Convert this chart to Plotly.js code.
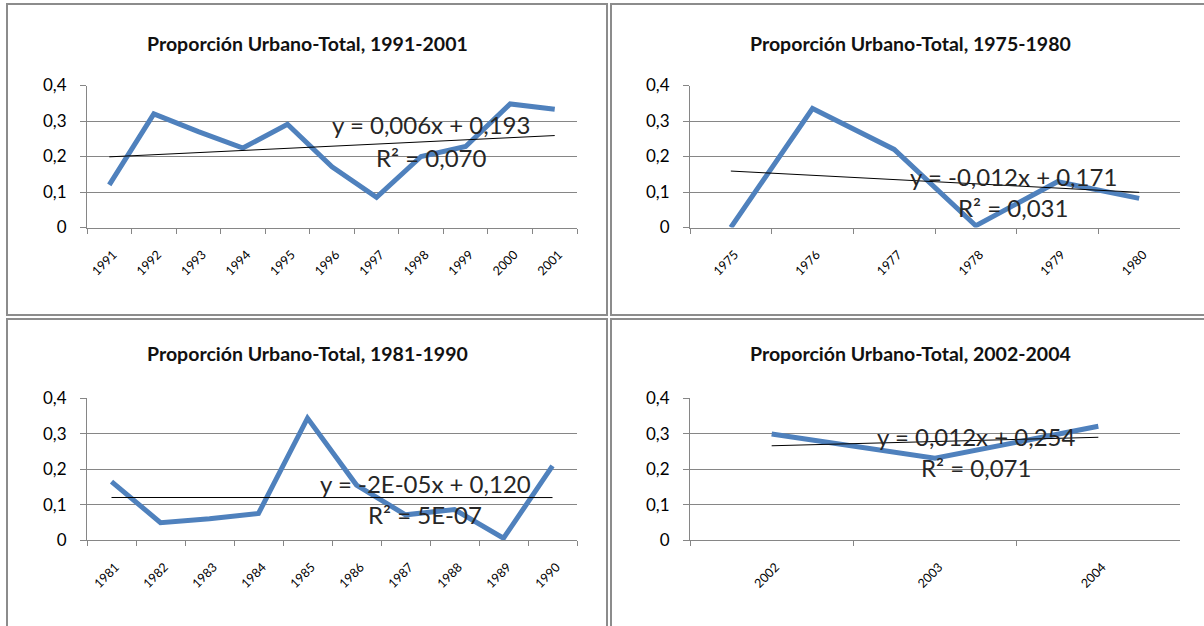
<!DOCTYPE html>
<html>
<head>
<meta charset="utf-8">
<script src="https://cdn.plot.ly/plotly-3.0.1.min.js"></script>
<style>
  html, body { margin: 0; padding: 0; background: #ffffff; }
  #chart { width: 1204px; height: 626px; }
</style>
</head>
<body>
<div id="chart"></div>
<script>
// Urban share of total, by period
const years1991 = ['1991', '1992', '1993', '1994', '1995', '1996', '1997', '1998', '1999', '2000', '2001'];
const share1991 = [0.12, 0.32, 0.27, 0.224, 0.291, 0.171, 0.085, 0.2, 0.228, 0.348, 0.333];

const years1975 = ['1975', '1976', '1977', '1978', '1979', '1980'];
const share1975 = [0.0, 0.335, 0.22, 0.005, 0.129, 0.082];

const years1981 = ['1981', '1982', '1983', '1984', '1985', '1986', '1987', '1988', '1989', '1990'];
const share1981 = [0.165, 0.049, 0.06, 0.075, 0.344, 0.155, 0.071, 0.086, 0.005, 0.209];

const years2002 = ['2002', '2003', '2004'];
const share2002 = [0.299, 0.231, 0.321];

// Linear trend coefficients (x = 1, 2, ... per category)
const trendSlopes = [0.006, -0.012, -0.00002, 0.012];
const trendIntercepts = [0.193, 0.171, 0.120, 0.254];
const trendEquations = ['y = 0,006x + 0,193', 'y = -0,012x + 0,171', 'y = -2E-05x + 0,120', 'y = 0,012x + 0,254'];
const trendR2 = ['R² = 0,070', 'R² = 0,031', 'R² = 5E-07', 'R² = 0,071'];

const chartTitles = [
  'Proporción Urbano-Total, 1991-2001',
  'Proporción Urbano-Total, 1975-1980',
  'Proporción Urbano-Total, 1981-1990',
  'Proporción Urbano-Total, 2002-2004'
];

const yTickVals = [0, 0.1, 0.2, 0.3, 0.4];
const yTickText = ['0', '0,1', '0,2', '0,3', '0,4'];

const W = 1204, H = 626;
const px = v => v / W;
const py = v => 1 - v / H;

// Panel geometry in pixels: frame box, plot box, title/equation anchors
const panels = [
  { years: years1991, share: share1991, frame: [7, 4, 607, 315], plot: [87, 85.5, 577, 227.5], titleX: 307, titleY: 43, eqX: 431, eqY: 124, r2Y: 157 },
  { years: years1975, share: share1975, frame: [611, 4, 1211, 315], plot: [690, 85.5, 1180, 227.5], titleX: 910, titleY: 43, eqX: 1013, eqY: 176, r2Y: 207 },
  { years: years1981, share: share1981, frame: [7, 319, 607, 632], plot: [87, 398.3, 577, 540], titleX: 307, titleY: 353, eqX: 425, eqY: 483, r2Y: 514 },
  { years: years2002, share: share2002, frame: [611, 319, 1211, 632], plot: [690, 398.3, 1180, 540], titleX: 910, titleY: 353, eqX: 976, eqY: 436, r2Y: 467 }
];

const FONT = 'Lato, "Open Sans", sans-serif';
const AXIS_GREY = '#868686';

const traces = [];
const layout = {
  width: W,
  height: H,
  margin: { l: 0, r: 0, t: 0, b: 0 },
  paper_bgcolor: '#ffffff',
  plot_bgcolor: 'rgba(0,0,0,0)',
  showlegend: false,
  font: { family: FONT, color: '#000000' },
  shapes: [],
  annotations: []
};

panels.forEach((p, i) => {
  const n = i + 1;
  const xa = n === 1 ? 'x' : 'x' + n;
  const ya = n === 1 ? 'y' : 'y' + n;
  const xKey = n === 1 ? 'xaxis' : 'xaxis' + n;
  const yKey = n === 1 ? 'yaxis' : 'yaxis' + n;

  // trend line evaluated at each category position
  const trend = p.years.map((_, k) => trendSlopes[i] * (k + 1) + trendIntercepts[i]);

  traces.push({
    x: p.years, y: p.share, xaxis: xa, yaxis: ya,
    type: 'scatter', mode: 'lines',
    line: { color: '#4F81BD', width: 5 },
    hoverinfo: 'skip'
  });
  traces.push({
    x: p.years, y: trend, xaxis: xa, yaxis: ya,
    type: 'scatter', mode: 'lines',
    line: { color: '#000000', width: 1 },
    hoverinfo: 'skip'
  });

  layout[xKey] = {
    domain: [px(p.plot[0]), px(p.plot[2])],
    anchor: ya,
    type: 'category',
    range: [-0.5, p.years.length - 0.5],
    tickson: 'boundaries',
    ticks: 'outside',
    ticklen: 5,
    tickcolor: AXIS_GREY,
    showline: true,
    linecolor: AXIS_GREY,
    linewidth: 1,
    showgrid: false,
    zeroline: false,
    tickangle: -45,
    tickfont: { family: FONT, size: 12.5, color: '#000000' },
    ticklabelstandoff: 14,
    ticklabelshift: 4,
    fixedrange: true
  };
  layout[yKey] = {
    domain: [py(p.plot[3]), py(p.plot[1])],
    anchor: xa,
    range: [0, 0.4],
    tickvals: yTickVals,
    ticktext: yTickText,
    ticks: 'outside',
    ticklen: 6,
    tickcolor: AXIS_GREY,
    showline: true,
    linecolor: AXIS_GREY,
    linewidth: 1,
    showgrid: true,
    gridcolor: AXIS_GREY,
    gridwidth: 1,
    zeroline: false,
    tickfont: { family: FONT, size: 17, color: '#000000' },
    ticklabelstandoff: 10,
    fixedrange: true
  };

  // chart frame
  layout.shapes.push({
    type: 'rect', xref: 'paper', yref: 'paper',
    x0: px(p.frame[0]), x1: px(p.frame[2]),
    y0: py(p.frame[3]), y1: py(p.frame[1]),
    line: { color: '#8c8c8c', width: 2 },
    fillcolor: 'rgba(0,0,0,0)',
    layer: 'below'
  });

  // chart title
  layout.annotations.push({
    xref: 'paper', yref: 'paper',
    x: px(p.titleX), y: py(p.titleY),
    xanchor: 'center', yanchor: 'middle',
    showarrow: false,
    text: '<b>' + chartTitles[i] + '</b>',
    font: { family: FONT, size: 19.5, color: '#111111' }
  });

  // trend equation and R²
  layout.annotations.push({
    xref: 'paper', yref: 'paper',
    x: px(p.eqX), y: py(p.eqY),
    xanchor: 'center', yanchor: 'middle',
    showarrow: false,
    text: trendEquations[i],
    font: { family: FONT, size: 24, color: '#262626' }
  });
  layout.annotations.push({
    xref: 'paper', yref: 'paper',
    x: px(p.eqX), y: py(p.r2Y),
    xanchor: 'center', yanchor: 'middle',
    showarrow: false,
    text: trendR2[i],
    font: { family: FONT, size: 24, color: '#262626' }
  });
});

Plotly.newPlot('chart', traces, layout, { displayModeBar: false, staticPlot: true });
</script>
</body>
</html>
